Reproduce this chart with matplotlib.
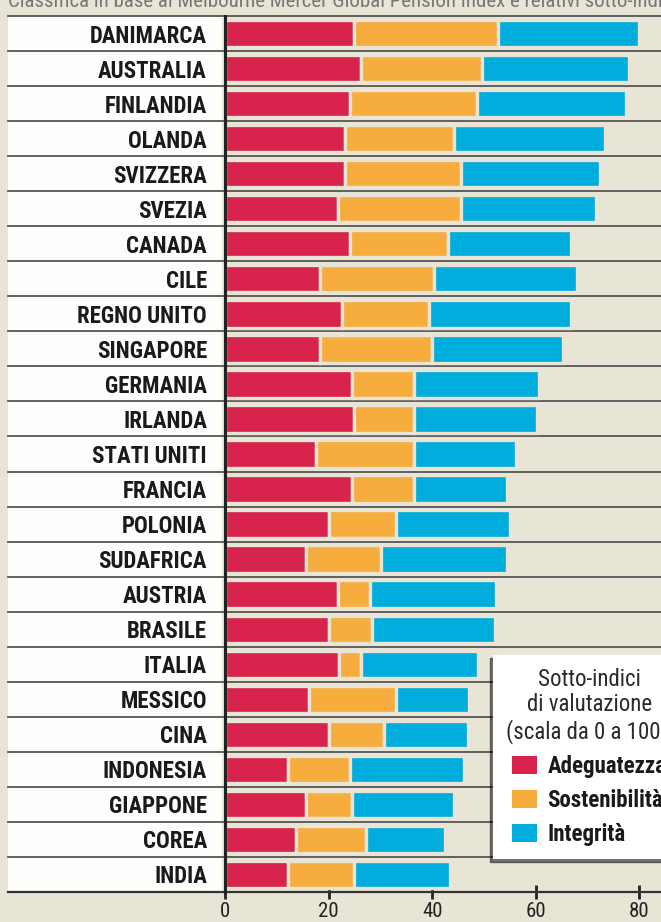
import matplotlib
matplotlib.use('Agg')
import matplotlib.pyplot as plt
from matplotlib import font_manager
from matplotlib.patches import Rectangle, Patch
import numpy as np

# pick a condensed sans that is actually installed
names = {(f.name, f.stretch) for f in font_manager.fontManager.ttflist}
fam_names = {n for n, _ in names}
font_stretch = 'normal'
if 'Liberation Sans Narrow' in fam_names:
    fam = 'Liberation Sans Narrow'
elif 'Roboto Condensed' in fam_names:
    fam = 'Roboto Condensed'
elif any(n == 'DejaVu Sans' and st in ('condensed', 'semi-condensed') for n, st in names):
    fam = 'DejaVu Sans'
    font_stretch = 'condensed'
else:
    fam = 'Liberation Sans'
plt.rcParams['font.family'] = [fam, 'DejaVu Sans']
plt.rcParams['font.stretch'] = font_stretch

paesi = ['DANIMARCA', 'AUSTRALIA', 'FINLANDIA', 'OLANDA', 'SVIZZERA', 'SVEZIA',
         'CANADA', 'CILE', 'REGNO UNITO', 'SINGAPORE', 'GERMANIA', 'IRLANDA',
         'STATI UNITI', 'FRANCIA', 'POLONIA', 'SUDAFRICA', 'AUSTRIA', 'BRASILE',
         'ITALIA', 'MESSICO', 'CINA', 'INDONESIA', 'GIAPPONE', 'COREA', 'INDIA']
adeguatezza = [24.9, 26.2, 24.2, 23.1, 23.1, 21.8, 24.2, 18.3, 22.5, 18.3, 24.5, 24.9, 17.6,
               24.5, 20.0, 15.6, 21.8, 20.0, 22.1, 16.3, 20.0, 12.1, 15.6, 13.8, 12.1]
sostenibilita = [27.8, 23.5, 24.5, 21.1, 22.4, 23.7, 18.9, 22.0, 16.8, 21.7, 12.0, 11.6, 18.9,
                 12.0, 13.1, 14.5, 6.1, 8.3, 4.1, 16.8, 10.7, 12.0, 8.9, 13.5, 12.8]
integrita = [27.2, 28.2, 28.8, 29.2, 26.9, 26.2, 23.7, 27.6, 27.5, 25.2, 24.2, 23.8, 19.7,
             17.9, 22.0, 24.3, 24.5, 23.8, 22.6, 14.1, 16.2, 22.1, 19.7, 15.1, 18.6]
tick_vals = [0, 20, 40, 60, 80]

W, H = 661, 922
bg = '#e9e5d6'
c_red, c_org, c_blu = '#d8244c', '#f7ac3e', '#00addc'

fig = plt.figure(figsize=(W / 100, H / 100), dpi=100, facecolor=bg)
# main axes: x=0 at pixel 225, rows between y=16 and y=892
top_px, bot_px, x0_px = 16, 892, 225
ax = fig.add_axes([x0_px / W, (H - bot_px) / H, (W - x0_px) / W, (bot_px - top_px) / H])
ax.set_facecolor(bg)

n = len(paesi)
y = np.arange(n)
a = np.array(adeguatezza)
s = np.array(sostenibilita)
g = np.array(integrita)
bh = 0.78
ax.barh(y, a, height=bh, color=c_red, edgecolor=bg, linewidth=2.4, zorder=3)
ax.barh(y, s, left=a, height=bh, color=c_org, edgecolor=bg, linewidth=2.4, zorder=3)
ax.barh(y, g, left=a + s, height=bh, color=c_blu, edgecolor=bg, linewidth=2.4, zorder=3)

ax.set_xlim(0, (W - x0_px) / 5.18)
ax.set_ylim(n - 0.5, -0.5)

# white label panel (behind the axes and its tick labels)
fig.patches.append(Rectangle((8 / W, (H - bot_px) / H), (222 - 8) / W, (bot_px - top_px) / H,
                             transform=fig.transFigure, facecolor='#fdfdfb', edgecolor='none', zorder=-5))

# row separators
for i in range(n + 1):
    ax.axhline(i - 0.5, xmin=(8 - x0_px) / (W - x0_px), xmax=1, color='#555555' if i < n else '#333333',
               lw=1.3 if i < n else 1.6, clip_on=False, zorder=2)

ax.set_yticks(y)
ax.set_yticklabels(paesi, fontsize=16.5, fontweight='bold', color='#1a1a1a')
ax.tick_params(axis='y', length=0, pad=13)

ax.set_xticks(tick_vals)
ax.set_xticklabels([str(v) for v in tick_vals], fontsize=15, color='#222222')
ax.tick_params(axis='x', direction='inout', length=10, width=2, color='#222222', pad=2)

for sp in ['top', 'right', 'bottom']:
    ax.spines[sp].set_visible(False)
ax.spines['left'].set_linewidth(2.2)
ax.spines['left'].set_color('#222222')
ax.spines['left'].set_zorder(4)

# headline, mostly cut by the top edge as in the source
fig.text(8 / W, 1 - 7 / H, 'Classifica in base al Melbourne Mercer Global Pension Index e relativi sotto-indici',
         fontsize=15, color='#777777', va='baseline', ha='left')

handles = [Patch(facecolor=c_red, label='Adeguatezza'),
           Patch(facecolor=c_org, label='Sostenibilità'),
           Patch(facecolor=c_blu, label='Integrità')]
leg = fig.legend(handles=handles, title='Sotto-indici\ndi valutazione\n(scala da 0 a 100):',
                 loc='upper left', bbox_to_anchor=(493 / W, 1 - 655 / H), borderaxespad=0,
                 prop={'size': 16.5, 'weight': 'bold'}, title_fontproperties={'size': 16.5},
                 frameon=True, fancybox=False, shadow={'ox': -2, 'oy': -2, 'color': '#00000022'},
                 handlelength=1.1, handleheight=0.8, handletextpad=0.45, labelspacing=0.48,
                 borderpad=0.55, alignment='center')
leg.get_frame().set_facecolor('white')
leg.get_frame().set_edgecolor('none')
leg.get_frame().set_alpha(1)
leg.set_zorder(10)
plt.setp(leg.get_texts(), color='#1a1a1a')
leg.get_title().set_color('#2a2a2a')
leg.get_title().set_linespacing(1.15)
leg.get_title().set_multialignment('center')

fig.savefig('out.png', dpi=100, facecolor=bg)
